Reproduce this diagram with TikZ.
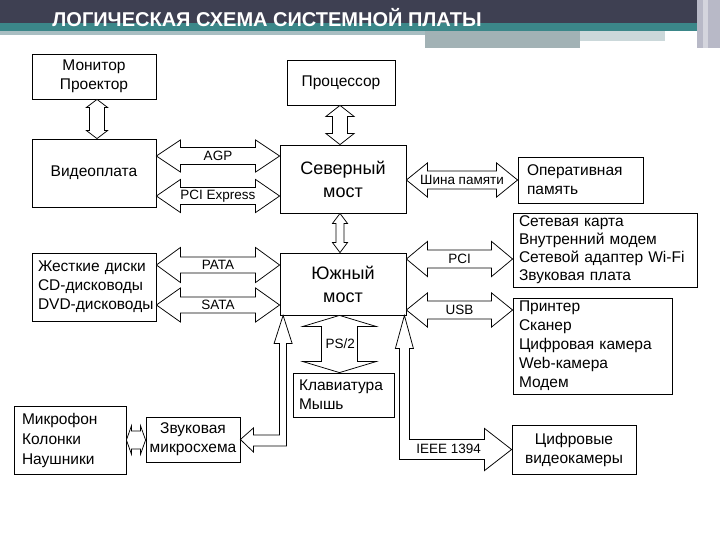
\documentclass[tikz,border=0pt]{standalone}
\usepackage{fontspec}
\setmainfont{Liberation Sans}
\usetikzlibrary{calc}
\definecolor{hdark}{HTML}{3E4052}
\definecolor{hteal}{HTML}{3B8789}
\definecolor{hline}{HTML}{A9BEC2}
\definecolor{hbar}{HTML}{A2B2B5}
\definecolor{hside}{HTML}{B8B9C7}
\tikzset{
  every picture/.style={x=1pt, y=-1pt, line width=0.8pt},
  box/.style={draw, fill=white, inner sep=0pt, align=center, font=\fontsize{15.5}{19}\selectfont},
  lbox/.style={box, align=left, inner xsep=6pt, text width=#1},
  bridge/.style={box, font=\fontsize{18}{23}\selectfont},
  blk/.style={draw, fill=white, line width=0.75pt, line join=miter},
  lbl/.style={font=\fontsize{13.5}{16}\selectfont, inner sep=0pt},
  title/.style={font=\bfseries\fontsize{20}{24}\selectfont, text=white, inner sep=0pt},
}
% hollow double arrow, left tip -> right tip: shaft half, head half, head length
\newcommand{\hdbl}[5]{%
  \draw[blk] let \p1=(#1), \p2=(#2) in
    (\x1,\y1) -- (\x1+#5,\y1+#4) -- (\x1+#5,\y1+#3) -- (\x2-#5,\y1+#3) -- (\x2-#5,\y1+#4)
    -- (\x2,\y1) -- (\x2-#5,\y1-#4) -- (\x2-#5,\y1-#3) -- (\x1+#5,\y1-#3) -- (\x1+#5,\y1-#4) -- cycle;}
% same with a bus name in the shaft
\newcommand{\hbus}[7]{%
  \hdbl{#3}{#4}{#5}{#6}{#7}
  \path let \p1=(#3), \p2=(#4) in node[lbl] (#1) at ($(\x1,\y1)!.5!(\x2,\y1)$) {#2};}
% hollow double arrow, top tip -> bottom tip
\newcommand{\vdbl}[5]{%
  \draw[blk] let \p1=(#1), \p2=(#2) in
    (\x1,\y1) -- (\x1+#4,\y1-#5) -- (\x1+#3,\y1-#5) -- (\x1+#3,\y2+#5) -- (\x1+#4,\y2+#5)
    -- (\x1,\y2) -- (\x1-#4,\y2+#5) -- (\x1-#3,\y2+#5) -- (\x1-#3,\y1-#5) -- (\x1-#4,\y1-#5) -- cycle;}

\begin{document}
\begin{tikzpicture}
  \fill[white] (0,0) rectangle (720,540);
  \useasboundingbox (0,0) rectangle (720,540);
  % ---- header ----
  \fill[hdark] (0,0) rectangle (697,23);
  \fill[hteal] (0,23) rectangle (697,31);
  \fill[hline] (0,31) rectangle (425,35);
  \fill[hbar] (425,31) rectangle (580,48);
  \fill[hline!60] (580,31) rectangle (665,41);
  \fill[hside] (697,0) rectangle (720,48);
  \fill[hside!60] (703,0) rectangle (708,48);
  \node[title, anchor=base west] (ttl) at (52,27) {ЛОГИЧЕСКАЯ СХЕМА СИСТЕМНОЙ ПЛАТЫ};
  % ---- blocks ----
  \node[box, minimum width=124pt, minimum height=45pt] (mon) at (94,76.5) {Монитор\\Проектор};
  \node[box, minimum width=124pt, minimum height=68pt] (vid) at (94,173) {Видеоплата};
  \node[box, minimum width=108pt, minimum height=45pt] (cpu) at (341,82.5) {Процессор};
  \node[bridge, minimum width=126pt, minimum height=68pt] (nb) at (343,179) {Северный\\мост};
  \node[lbox=107pt, inner xsep=9pt, minimum height=46pt] (ram) at (580.5,180) {Оперативная\\память};
  \node[bridge, minimum width=126pt, minimum height=62pt] (sb) at (343,284) {Южный\\мост};
  \node[lbox=112pt, minimum height=68pt] (hdd) at (94,287)
    {Жесткие диски\\CD-дисководы\\\mbox{DVD-дисководы}};
  \node[lbox=172pt, minimum height=74pt, font=\fontsize{15.5}{18}\selectfont] (net) at (605,250)
    {Сетевая карта\\Внутренний модем\\Сетевой адаптер Wi-Fi\\Звуковая плата};
  \node[lbox=147pt, minimum height=96pt] (usbd) at (592.5,346)
    {Принтер\\Сканер\\Цифровая камера\\Web-камера\\Модем};
  \node[lbox=89pt, minimum height=44pt] (kbd) at (343.5,395) {Клавиатура\\Мышь};
  \node[lbox=96pt, inner xsep=8pt, minimum height=68pt, font=\fontsize{15.5}{20}\selectfont] (mic) at (70,440)
    {Микрофон\\Колонки\\Наушники};
  \node[box, minimum width=94pt, minimum height=45pt] (snd) at (193,439.5) {Звуковая\\микросхема};
  \node[box, minimum width=124pt, minimum height=49pt] (cam) at (574,449.5) {Цифровые\\видеокамеры};
  % ---- buses ----
  \vdbl{[xshift=3pt]mon.south}{vid.north}{7.5pt}{10.5pt}{8pt}
  \vdbl{[xshift=-1pt]cpu.south}{nb.north}{7.5pt}{14pt}{11pt}
  \vdbl{[xshift=-3pt]nb.south}{sb.north}{4pt}{7.5pt}{10pt}
  \hbus{agp}{AGP}{[yshift=17pt]vid.east}{nb.west}{8.5pt}{16pt}{24pt}
  \hbus{pcie}{PCI Express}{[yshift=-23pt]vid.east}{nb.west}{8.5pt}{16.5pt}{24pt}
  \hbus{mem}{Шина памяти}{[yshift=-1pt]nb.east}{ram.west}{9pt}{17pt}{21pt}
  \hbus{pata}{PATA}{[yshift=22pt]hdd.east}{sb.west}{8pt}{17.5pt}{24pt}
  \hbus{sata}{SATA}{[yshift=-18pt]hdd.east}{sb.west}{8pt}{17pt}{24pt}
  \hbus{pci}{PCI}{[yshift=25pt]sb.east}{net.west}{9pt}{17.5pt}{21pt}
  \hbus{usb}{USB}{[yshift=-26pt]sb.east}{usbd.west}{9pt}{17pt}{21pt}
  \vdbl{[xshift=-3.5pt]sb.south}{kbd.north}{18pt}{36.5pt}{11pt}
  \node[lbl] (ps2) at ($(sb.south)!.5!(kbd.north)+(-3,0)$) {PS/2};
  \hdbl{mic.east}{snd.west}{9pt}{14pt}{5pt}
  % sound: bent arrow from the south bridge
  \draw[blk] let \p1=([xshift=3.5pt]sb.south west), \p2=(snd.east) in
    (\x1,\y1) -- (\x1+9pt,\y1-28pt) -- (\x1+3.5pt,\y1-28pt) -- (\x1+3.5pt,\y2-6.5pt)
    -- (\x2+13pt,\y2-6.5pt) -- (\x2+13pt,\y2-12.5pt) -- (\x2,\y2) -- (\x2+13pt,\y2+11.5pt)
    -- (\x2+13pt,\y2+4.5pt) -- (\x1-3.5pt,\y2+4.5pt) -- (\x1-3.5pt,\y1-28pt) -- (\x1-9pt,\y1-28pt) -- cycle;
  % IEEE 1394: bent arrow to the cameras
  \draw[blk] let \p1=([xshift=-2pt]sb.south east), \p2=(cam.west) in
    (\x1,\y1) -- (\x1+9pt,\y1-33pt) -- (\x1+5pt,\y1-33pt) -- (\x1+5pt,\y2+10pt)
    -- (\x2-27pt,\y2+10pt) -- (\x2-27pt,\y2+21pt) -- (\x2,\y2) -- (\x2-27pt,\y2-21pt)
    -- (\x2-27pt,\y2-10pt) -- (\x1-5pt,\y2-10pt) -- (\x1-5pt,\y1-33pt) -- (\x1-9pt,\y1-33pt) -- cycle;
  \node[lbl] (ieee) at ([xshift=-63pt, yshift=1pt]cam.west) {IEEE 1394};
\end{tikzpicture}
\end{document}
